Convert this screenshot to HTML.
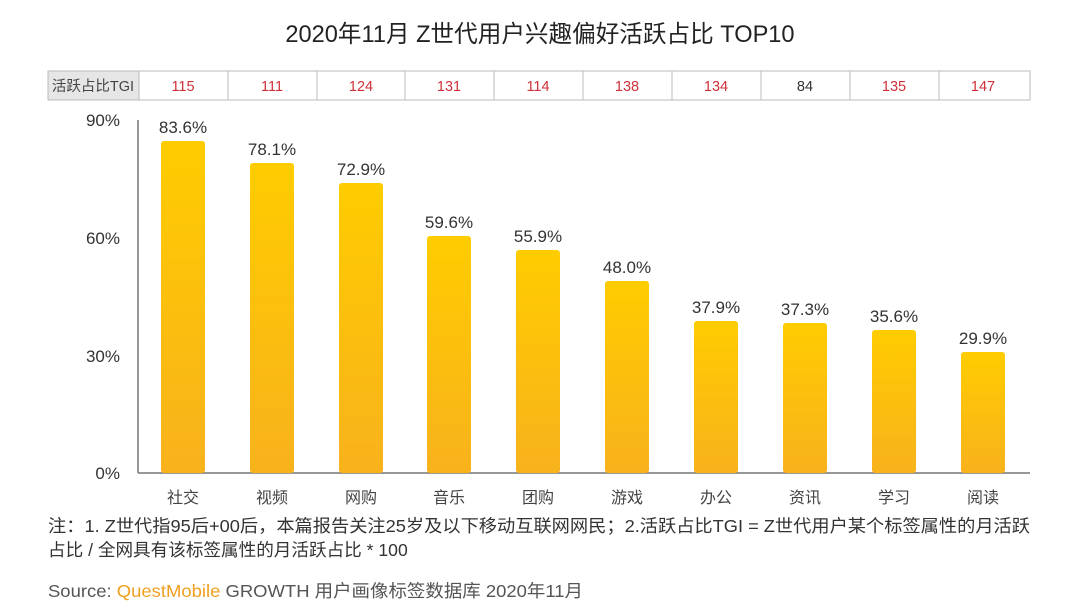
<!DOCTYPE html>
<html><head><meta charset="utf-8"><style>
body{margin:0;background:#fff;width:1080px;height:607px;overflow:hidden}
svg text{font-family:"Liberation Sans","Noto Sans CJK SC",sans-serif}
</style></head><body>
<svg width="1080" height="607" xmlns="http://www.w3.org/2000/svg">
<defs><linearGradient id="g" x1="0" y1="0" x2="0" y2="1"><stop offset="0" stop-color="#FFCC00"/><stop offset="1" stop-color="#F8B21C"/></linearGradient></defs>
<text x="540" y="42" text-anchor="middle" font-size="23.6" fill="#222">2020年11月 Z世代用户兴趣偏好活跃占比 TOP10</text>
<rect x="48" y="71" width="91" height="29" fill="#e6e6e6" stroke="#bbb"/>
<text x="93" y="91" text-anchor="middle" font-size="14.5" fill="#444">活跃占比TGI</text>
<g stroke="#bbb" fill="none"><rect x="139" y="71" width="891" height="29"/>
<line x1="228" y1="71" x2="228" y2="100"/><line x1="317" y1="71" x2="317" y2="100"/><line x1="405" y1="71" x2="405" y2="100"/><line x1="494" y1="71" x2="494" y2="100"/><line x1="583" y1="71" x2="583" y2="100"/><line x1="672" y1="71" x2="672" y2="100"/><line x1="761" y1="71" x2="761" y2="100"/><line x1="850" y1="71" x2="850" y2="100"/><line x1="939" y1="71" x2="939" y2="100"/></g>
<g font-size="14.5" text-anchor="middle" fill="#d0303a">
<text x="183" y="91">115</text><text x="272" y="91">111</text><text x="361" y="91">124</text><text x="449" y="91">131</text><text x="538" y="91">114</text><text x="627" y="91">138</text><text x="716" y="91">134</text><text x="805" y="91" fill="#333">84</text><text x="894" y="91">135</text><text x="983" y="91">147</text></g>
<g font-size="17" fill="#333" text-anchor="end"><text x="120" y="126">90%</text><text x="120" y="244">60%</text><text x="120" y="362">30%</text><text x="120" y="479">0%</text></g>
<line x1="138" y1="120" x2="138" y2="473" stroke="#777" stroke-width="1.5"/>
<line x1="138" y1="473" x2="1030" y2="473" stroke="#777" stroke-width="1.5"/>
<g fill="url(#g)">
<rect x="161" y="141" width="44" height="332" rx="3"/>
<rect x="250" y="163" width="44" height="310" rx="3"/>
<rect x="339" y="183" width="44" height="290" rx="3"/>
<rect x="427" y="236" width="44" height="237" rx="3"/>
<rect x="516" y="250" width="44" height="223" rx="3"/>
<rect x="605" y="281" width="44" height="192" rx="3"/>
<rect x="694" y="321" width="44" height="152" rx="3"/>
<rect x="783" y="323" width="44" height="150" rx="3"/>
<rect x="872" y="330" width="44" height="143" rx="3"/>
<rect x="961" y="352" width="44" height="121" rx="3"/></g>
<g font-size="17" fill="#333" text-anchor="middle">
<text x="183" y="133">83.6%</text><text x="272" y="155">78.1%</text><text x="361" y="175">72.9%</text><text x="449" y="228">59.6%</text><text x="538" y="242">55.9%</text><text x="627" y="273">48.0%</text><text x="716" y="313">37.9%</text><text x="805" y="315">37.3%</text><text x="894" y="322">35.6%</text><text x="983" y="344">29.9%</text></g>
<g font-size="16" fill="#444" text-anchor="middle">
<text x="183" y="503">社交</text><text x="272" y="503">视频</text><text x="361" y="503">网购</text><text x="449" y="503">音乐</text><text x="538" y="503">团购</text><text x="627" y="503">游戏</text><text x="716" y="503">办公</text><text x="805" y="503">资讯</text><text x="894" y="503">学习</text><text x="983" y="503">阅读</text></g>
<g fill="#333">
<text x="48" y="532" font-size="17.6" textLength="982" lengthAdjust="spacingAndGlyphs">注：1. Z世代指95后+00后，本篇报告关注25岁及以下移动互联网网民；2.活跃占比TGI = Z世代用户某个标签属性的月活跃</text>
<text x="48" y="556" font-size="17.6">占比 / 全网具有该标签属性的月活跃占比 * 100</text>
<text x="48" y="597" fill="#555" font-size="17.6" textLength="535" lengthAdjust="spacingAndGlyphs">Source: <tspan fill="#f0a020">QuestMobile</tspan> GROWTH 用户画像标签数据库 2020年11月</text></g>
</svg>
</body></html>
